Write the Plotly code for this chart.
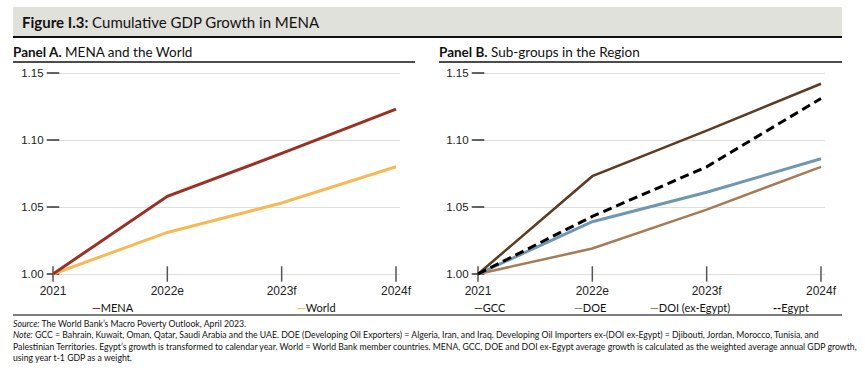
import plotly.graph_objects as go

W, H = 865, 374

# ---------------- data ----------------
years = ["2021", "2022e", "2023f", "2024f"]
y_ticks = [1.00, 1.05, 1.10, 1.15]
y_tick_labels = ["1.00", "1.05", "1.10", "1.15"]

mena = [1.000, 1.058, 1.090, 1.123]
world = [1.000, 1.031, 1.053, 1.080]

gcc = [1.000, 1.073, 1.107, 1.142]
doe = [1.000, 1.039, 1.061, 1.086]
doi_ex_egypt = [1.000, 1.019, 1.048, 1.080]
egypt = [1.000, 1.043, 1.080, 1.131]

panel_a_names = ["MENA", "World"]
panel_b_names = ["GCC", "DOE", "DOI (ex-Egypt)", "Egypt"]

# ---------------- style ----------------
C_MENA = "#9b3024"
C_WORLD = "#f7b955"
C_GCC = "#5c3c22"
C_DOE = "#7097b0"
C_DOI = "#a67b55"
C_EGYPT = "#000000"

TXT = "Lato"
NARROW = "Liberation Sans Narrow, Arial Narrow, Lato"
TICKF = "Liberation Sans, Arial"


def px_x(p):
    return p / W


def px_y(p):
    return (H - p) / H


X_RANGE = [-0.03, 3.035]
Y_RANGE = [0.996, 1.154]
unit = 114.33
A_left = 53 + X_RANGE[0] * unit
A_right = 53 + X_RANGE[1] * unit
B_left = 478 + X_RANGE[0] * unit
B_right = 478 + X_RANGE[1] * unit
yu = 201 / 0.15
y_bot = 274 + (1.0 - Y_RANGE[0]) * yu
y_top = 73 - (Y_RANGE[1] - 1.15) * yu

fig = go.Figure()

def add_line(x, y, color, width, axis, dash="solid"):
    fig.add_trace(go.Scatter(x=x, y=y, mode="lines", xaxis="x" + axis, yaxis="y" + axis,
                             line=dict(color=color, width=width, dash=dash),
                             showlegend=False, hoverinfo="x+y"))

# tick marks (crossing ticks) drawn as markers on the axes
for ax in ["", "2"]:
    fig.add_trace(go.Scatter(x=years, y=[y_ticks[0]] * len(years), mode="markers",
                             xaxis="x" + ax, yaxis="y" + ax, cliponaxis=False,
                             marker=dict(symbol="line-ns", size=11, line=dict(color="#555555", width=1.5)),
                             showlegend=False, hoverinfo="skip"))
    fig.add_trace(go.Scatter(x=[years[0]] * len(y_ticks), y=y_ticks, mode="markers",
                             xaxis="x" + ax, yaxis="y" + ax, cliponaxis=False,
                             marker=dict(symbol="line-ew", size=9, line=dict(color="#333333", width=1.5)),
                             showlegend=False, hoverinfo="skip"))

add_line(years, world, C_WORLD, 3, "")
add_line(years, mena, C_MENA, 3, "")

add_line(years, doi_ex_egypt, C_DOI, 2.5, "2")
add_line(years, doe, C_DOE, 3, "2")
add_line(years, gcc, C_GCC, 2.5, "2")
add_line(years, egypt, C_EGYPT, 3, "2", dash="9px,5px")

xcommon = dict(type="category", range=X_RANGE, showgrid=False, zeroline=False, showline=False,
               ticks="", tickfont=dict(family=TICKF, size=12, color="#222"),
               ticklabelstandoff=3, fixedrange=True, automargin=False)
ycommon = dict(range=Y_RANGE, tickvals=y_ticks, ticktext=y_tick_labels, showgrid=True,
               gridcolor="#dedede", gridwidth=1, zeroline=False, showline=False, ticks="",
               tickfont=dict(family=TICKF, size=11.5, color="#222"), ticklabelstandoff=5,
               fixedrange=True, automargin=False)

fig.update_layout(
    width=W, height=H, margin=dict(l=0, r=0, t=0, b=0, pad=0),
    paper_bgcolor="white", plot_bgcolor="white",
    xaxis=dict(domain=[px_x(A_left), px_x(A_right)], anchor="y", **xcommon),
    yaxis=dict(domain=[px_y(y_bot), px_y(y_top)], anchor="x", **ycommon),
    xaxis2=dict(domain=[px_x(B_left), px_x(B_right)], anchor="y2", **xcommon),
    yaxis2=dict(domain=[px_y(y_bot), px_y(y_top)], anchor="x2", **ycommon),
    showlegend=False,
)

shapes = []
# header band
shapes.append(dict(type="rect", xref="paper", yref="paper", x0=px_x(13), x1=px_x(842),
                   y0=px_y(37), y1=px_y(7), fillcolor="#e1e1dc", line=dict(width=0), layer="below"))
shapes.append(dict(type="line", xref="paper", yref="paper", x0=px_x(13), x1=px_x(842),
                   y0=px_y(37), y1=px_y(37), line=dict(color="#111", width=1.8)))
# panel underlines
shapes.append(dict(type="line", xref="paper", yref="paper", x0=px_x(13), x1=px_x(415),
                   y0=px_y(62), y1=px_y(62), line=dict(color="#111", width=1.5)))
shapes.append(dict(type="line", xref="paper", yref="paper", x0=px_x(439), x1=px_x(842),
                   y0=px_y(62), y1=px_y(62), line=dict(color="#111", width=1.5)))
# line below legends
shapes.append(dict(type="line", xref="paper", yref="paper", x0=px_x(13), x1=px_x(842),
                   y0=px_y(315), y1=px_y(315), line=dict(color="#555", width=1.5)))
fig.update_layout(shapes=shapes)

ann = []
def text(x, y, s, size, family=TXT, color="#111", xanchor="left"):
    ann.append(dict(xref="paper", yref="paper", x=px_x(x), y=px_y(y), text=s, showarrow=False,
                    xanchor=xanchor, yanchor="middle", align="left",
                    font=dict(family=family, size=size, color=color)))

text(20, 22, "<b>Figure I.3:</b> Cumulative GDP Growth in MENA", 15)
text(11, 52, "<b>Panel A.</b> MENA and the World", 13.5)
text(437, 52, "<b>Panel B.</b> Sub-groups in the Region", 13.5)

# legends
leg_a = [(113, C_MENA, "—"), (316, C_WORLD, "—")]
for (cx, col, sym), name in zip(leg_a, panel_a_names):
    text(cx, 307, f"<span style='color:{col}'><b>{sym}</b></span>{name}", 11, family=NARROW,
         xanchor="center")
leg_b = [(490, C_GCC, "—"), (590, C_DOE, "—"), (690, C_DOI, "—"), (791, C_EGYPT, "--")]
for (cx, col, sym), name in zip(leg_b, panel_b_names):
    text(cx, 307, f"<span style='color:{col}'><b>{sym}</b></span>{name}", 11, family=NARROW,
         xanchor="center")

notes = [
    "<i>Source:</i> The World Bank’s Macro Poverty Outlook, April 2023.",
    "<i>Note:</i> GCC = Bahrain, Kuwait, Oman, Qatar, Saudi Arabia and the UAE. DOE (Developing Oil Exporters) = Algeria, Iran, and Iraq. Developing Oil Importers ex-(DOI ex-Egypt) = Djibouti, Jordan, Morocco, Tunisia, and",
    "Palestinian Territories. Egypt’s growth is transformed to calendar year. World = World Bank member countries. MENA, GCC, DOE and DOI ex-Egypt average growth is calculated as the weighted average annual GDP growth,",
    "using year t-1 GDP as a weight.",
]
for i, s in enumerate(notes):
    text(11, 323 + i * 11.5, s, 8.7, family=NARROW)

fig.update_layout(annotations=ann)

fig.write_html("out.html", config={"displayModeBar": False},
               post_script="document.body.style.margin='0';document.body.style.overflow='hidden';")
